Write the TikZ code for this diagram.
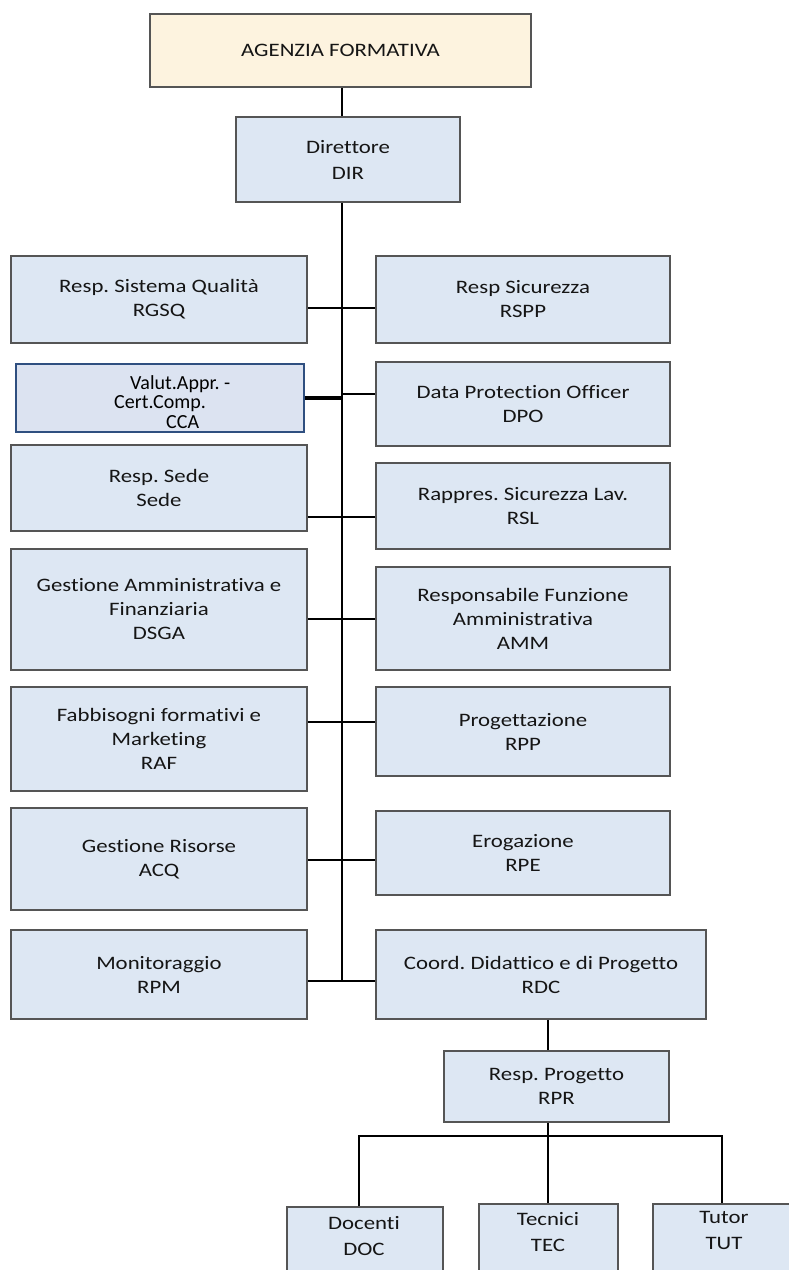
\documentclass[tikz,border=0pt]{standalone}
\usepackage{fontspec}
\setmainfont{Carlito}[FakeStretch=1.2, Ligatures=CommonOff]
\newfontfamily\ccafont{Carlito}[Ligatures=CommonOff]
\definecolor{boxfill}{HTML}{DDE7F3}
\definecolor{boxline}{HTML}{555555}
\definecolor{agzfill}{HTML}{FDF3DF}
\definecolor{ccafill}{HTML}{DCE3F1}
\definecolor{ccaline}{HTML}{2F4F80}
\definecolor{txtc}{HTML}{151515}
\begin{document}
\frenchspacing
\begin{tikzpicture}[x=1pt,y=-1pt,
  box/.style={draw=boxline, fill=boxfill, line width=1.5pt, inner sep=0pt,
    align=center, text=txtc, font=\fontsize{19}{24}\selectfont},
  agzbox/.style={box, fill=agzfill},
  ccabox/.style={draw=ccaline, fill=ccafill, line width=1.6pt, inner sep=0pt},
  ccatext/.style={align=left, inner sep=0pt, text=black, font=\ccafont\fontsize{20}{19.5}\selectfont},
  lbl/.style={align=center, inner sep=0pt, text=txtc, font=\fontsize{19}{26}\selectfont},
  conn/.style={line width=1.5pt, black},
  thickconn/.style={line width=3.2pt, black}]
\useasboundingbox (0,0) rectangle (788,1270);

% top
\node (agz) [agzbox, minimum width=381, minimum height=73] at (340.5,50.5) {AGENZIA FORMATIVA};
\node (dir) [box, minimum width=224, minimum height=85, font=\fontsize{19}{26}\selectfont] at (348,159.5) {Direttore\\DIR};

% left column
\node (rgsq) [box, minimum width=296, minimum height=87] at (159,299.5) {Resp. Sistema Qualità\\RGSQ};
\node (cca)  [ccabox, minimum width=288, minimum height=68] at (160,398) {};
\node (ccat) [ccatext, anchor=west] at (114,402) {\hspace*{16pt}Valut.Appr. -\\Cert.Comp.\\\hspace*{52pt}CCA};
\node (sede) [box, minimum width=296, minimum height=86] at (159,488) {Resp. Sede\\Sede};
\node (dsga) [box, minimum width=296, minimum height=121] at (159,609.5) {Gestione Amministrativa e\\Finanziaria\\DSGA};
\node (raf)  [box, minimum width=296, minimum height=104] at (159,739) {Fabbisogni formativi e\\Marketing\\RAF};
\node (acq)  [box, minimum width=296, minimum height=102] at (159,859) {Gestione Risorse\\ACQ};
\node (rpm)  [box, minimum width=296, minimum height=89] at (159,974.5) {Monitoraggio\\RPM};

% right column
\node (rspp) [box, minimum width=294, minimum height=87] at (523,299.5) {Resp Sicurezza\\RSPP};
\node (dpo)  [box, minimum width=294, minimum height=84] at (523,404) {Data Protection Officer\\DPO};
\node (rsl)  [box, minimum width=294, minimum height=86] at (523,506) {Rappres. Sicurezza Lav.\\RSL};
\node (amm)  [box, minimum width=294, minimum height=103] at (523,618.5) {Responsabile Funzione\\Amministrativa\\AMM};
\node (rpp)  [box, minimum width=294, minimum height=89] at (523,731.5) {Progettazione\\RPP};
\node (rpe)  [box, minimum width=294, minimum height=84] at (523,853) {Erogazione\\RPE};
\node (rdc)  [box, minimum width=330, minimum height=89] at (541,974.5) {Coord. Didattico e di Progetto\\RDC};

% lower part
\node (rpr) [box, minimum width=225, minimum height=71] at (556.5,1086.5) {Resp. Progetto\\RPR};
\node (doc) [box, anchor=north, minimum width=156, minimum height=100] at (365,1206) {};
\node (tec) [box, anchor=north, minimum width=139, minimum height=100] at (548.5,1203) {};
\node (tut) [box, anchor=north, minimum width=138, minimum height=100] at (722,1203) {};
\node (doct) [lbl] at (364,1236) {Docenti\\DOC};
\node (tect) [lbl] at (548,1232) {Tecnici\\TEC};
\node (tutt) [lbl] at (724,1230) {Tutor\\TUT};

% trunk coordinates
\coordinate (ttop) at (342,87);
\coordinate (tend) at (342,981);
\coordinate (t1) at (342,308);
\coordinate (t2) at (342,398);
\coordinate (t2r) at (342,394);
\coordinate (t3) at (342,517);
\coordinate (t4) at (342,619);
\coordinate (t5) at (342,722);
\coordinate (t6) at (342,860);
\coordinate (bus) at (548,1136);
\coordinate (busL) at (359,1136);
\coordinate (busR) at (722,1136);

% connectors
\draw[conn] (agz.south -| ttop) -- (dir.north -| ttop);
\draw[conn] (dir.south -| ttop) -- (tend);
\draw[conn] (rgsq.east |- t1) -- (rspp.west |- t1);
\draw[thickconn] (cca.east |- t2) -- (t2);
\draw[conn] (t2r) -- (dpo.west |- t2r);
\draw[conn] (sede.east |- t3) -- (rsl.west |- t3);
\draw[conn] (dsga.east |- t4) -- (amm.west |- t4);
\draw[conn] (raf.east |- t5) -- (rpp.west |- t5);
\draw[conn] (acq.east |- t6) -- (rpe.west |- t6);
\draw[conn] (rpm.east |- tend) -- (rdc.west |- tend);
\draw[conn] (rdc.south -| bus) -- (rpr.north -| bus);
\draw[conn] (rpr.south -| bus) -- (bus);
\draw[conn] (doc.north -| busL) -- (busL) -- (busR) -- (tut.north -| busR);
\draw[conn] (bus) -- (tec.north -| bus);
\end{tikzpicture}
\end{document}
